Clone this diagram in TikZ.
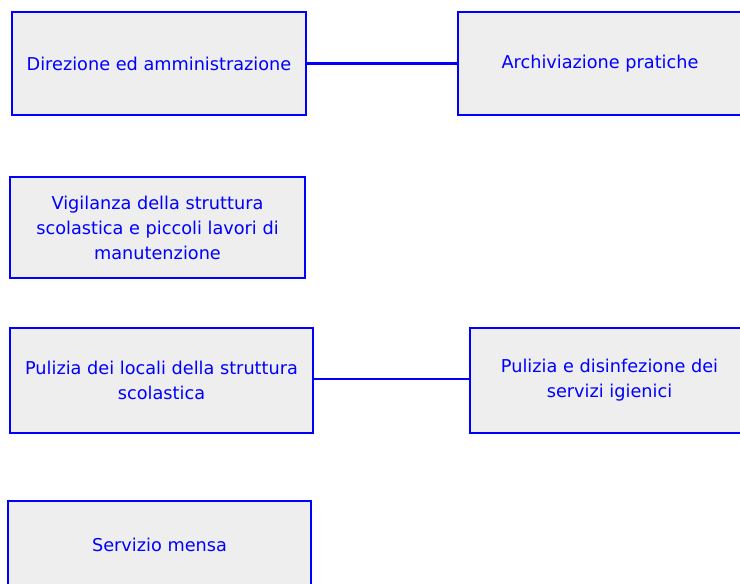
\documentclass[tikz,border=0pt]{standalone}
\usepackage{fontspec}
\setmainfont{DejaVu Sans}
\usepackage{xcolor}
\definecolor{unitBlue}{HTML}{0000FF}
\definecolor{unitBg}{HTML}{EEEEEE}
\usepackage{tikz}
\usetikzlibrary{positioning}
\tikzset{%
  unitBox/.style={%
    rectangle,
    draw=unitBlue,
    line width=2pt,
    fill=unitBg,
    text=unitBlue,
    inner sep=0pt,
    outer sep=0pt,
    align=center,
    font=\fontsize{17.7}{25}\selectfont
  },
  linkLine/.style={%
    draw=unitBlue,
    line width=1.8pt
  },
  mainLink/.style={%
    draw=unitBlue,
    line width=3.5pt
  }
}

\begin{document}
\begin{tikzpicture}[x=1pt, y=1pt]
            \useasboundingbox (0,0) rectangle (740,-584);

            \node[unitBox, minimum width=294pt, minimum height=103pt, anchor=north west] (direzione) at (12,-12) {Direzione ed amministrazione};
            \node[unitBox, minimum width=284pt, minimum height=103pt, right=152pt of direzione] (archivio) {Archiviazione pratiche};

            \node[unitBox, minimum width=295pt, minimum height=101pt, below=62pt of direzione.south west, anchor=north west, xshift=-2pt] (vigilanza) {Vigilanza della struttura\\scolastica e piccoli lavori di\\manutenzione};

            \node[unitBox, minimum width=303pt, minimum height=105pt, below=50pt of vigilanza.south west, anchor=north west] (pulizia) {Pulizia dei locali della struttura\\scolastica};
            \node[unitBox, minimum width=279pt, minimum height=105pt, right=157pt of pulizia] (igienici) {Pulizia e disinfezione dei\\servizi igienici};

            \node[unitBox, minimum width=303pt, minimum height=88pt, below=68pt of pulizia.south west, anchor=north west, xshift=-2pt] (mensa) {Servizio mensa};

            \draw[mainLink] (direzione) -- (archivio);
            \draw[linkLine] ([yshift=1.5pt]pulizia.east) -- ([yshift=1.5pt]igienici.west);
        \end{tikzpicture}
\end{document}
